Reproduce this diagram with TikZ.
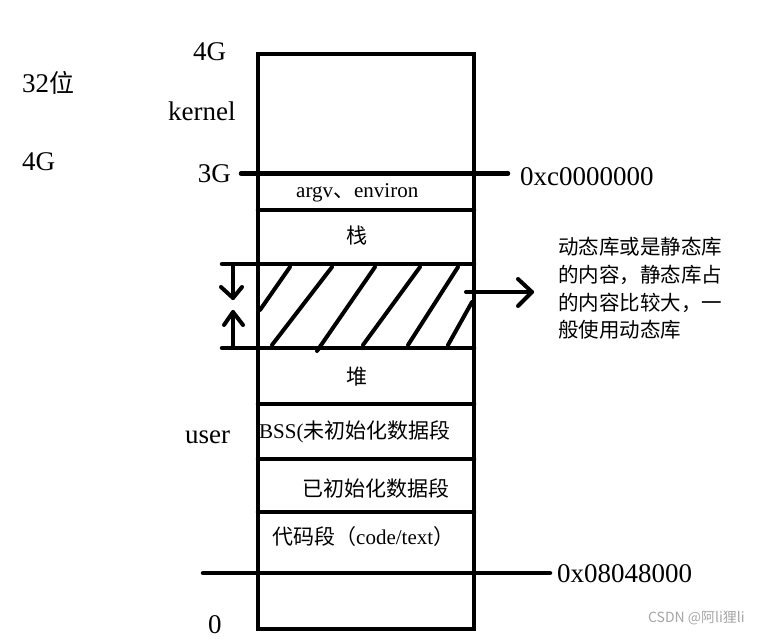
\documentclass[tikz,border=0pt]{standalone}
\usepackage{fontspec}
\setmainfont{Liberation Serif}
\newfontfamily\cjk{Noto Sans CJK SC}
\begin{document}
\begin{tikzpicture}[x=1pt,y=-1pt,
  wall/.style={line width=4.5pt, line cap=round},
  hatchline/.style={line width=4pt, line cap=round},
  arr/.style={line width=4pt, line cap=round, line join=round},
  lbl/.style={inner sep=0pt, font=\fontsize{27}{31}\selectfont},
  cell/.style={inner sep=0pt, font=\fontsize{21}{24}\selectfont},
  note/.style={inner sep=0pt, font=\cjk\fontsize{20.5}{24}\selectfont},
  wmark/.style={inner sep=0pt, text=black!35, font=\cjk\fontsize{14}{16}\selectfont}]
\useasboundingbox (0,0) rectangle (758,638);
\fill[white] (0,0) rectangle (758,638);

% memory column
\draw[wall, line cap=butt] (258,54) rectangle (474,629);
\draw[wall] (241,173.5) -- (508,173.5);
\draw[wall] (258,210) -- (474,210);
\draw[wall] (222,264) -- (474,264);
\draw[wall] (222,348) -- (474,348);
\draw[wall] (258,404) -- (474,404);
\draw[wall] (258,459) -- (474,459);
\draw[wall] (258,512) -- (474,512);
\draw[wall] (203,573) -- (550,573);

% hatching
\draw[hatchline] (260,310) -- (290,267);
\draw[hatchline] (272,345) -- (332,267);
\draw[hatchline] (317,351) -- (375,267);
\draw[hatchline] (363,345) -- (420,267);
\draw[hatchline] (408,345) -- (458,267);
\draw[hatchline] (448,345) -- (472,302);

% growth arrows
\coordinate (dtop) at (233,264);
\coordinate (dtip) at (233,298);
\coordinate (ubot) at (233,348);
\coordinate (utip) at (233,312);
\draw[arr] (dtop) -- (dtip);
\draw[arr] (221,287) -- (dtip) -- (242,287);
\draw[arr] (ubot) -- (utip);
\draw[arr] (224,325) -- (utip) -- (243,325);

% right arrow
\coordinate (rs) at (466,292);
\coordinate (re) at (532,292);
\draw[arr] (rs) -- (re);
\draw[arr] (518,279) -- (re) -- (518,306);

% labels
\node[lbl, anchor=base west] (t4g) at (193,60) {4G};
\node[lbl, anchor=base west] (b32) at (22,92) {32{\cjk\fontsize{25}{28}\selectfont 位}};
\node[lbl, anchor=base west] (kern) at (168,120) {kernel};
\node[lbl, anchor=base west] (l4g) at (22,170) {4G};
\node[lbl, anchor=base east] (t3g) at (231,182) {3G};
\node[lbl, anchor=base west] (hex1) at (520,185) {0xc0000000};
\node[lbl, anchor=base west] (user) at (185,443) {user};
\node[lbl, anchor=base west] (zero) at (208,633) {0};
\node[lbl, anchor=base west] (hex2) at (557,582) {0x08048000};

\node[cell, anchor=base west] (argv) at (296,197) {argv{\cjk 、}environ};
\node[cell] (stack) at (357,236) {\cjk 栈};
\node[cell] (heap) at (357,377) {\cjk 堆};
\node[cell, anchor=west] (bss) at (259,432) {BSS({\cjk 未初始化数据段}};
\node[cell, anchor=west] (data) at (302,488) {\cjk 已初始化数据段};
\node[cell, anchor=west] (code) at (272,537) {{\cjk 代码段（}code/text{\cjk ）}};

\node[note, anchor=west] (n1) at (558,247) {动态库或是静态库};
\node[note, anchor=west] (n2) at (558,275) {的内容，静态库占};
\node[note, anchor=west] (n3) at (558,303) {的内容比较大，一};
\node[note, anchor=west] (n4) at (558,330) {般使用动态库};

\node[wmark, anchor=east] (wm) at (745,618) {CSDN @阿li狸li};
\end{tikzpicture}
\end{document}
